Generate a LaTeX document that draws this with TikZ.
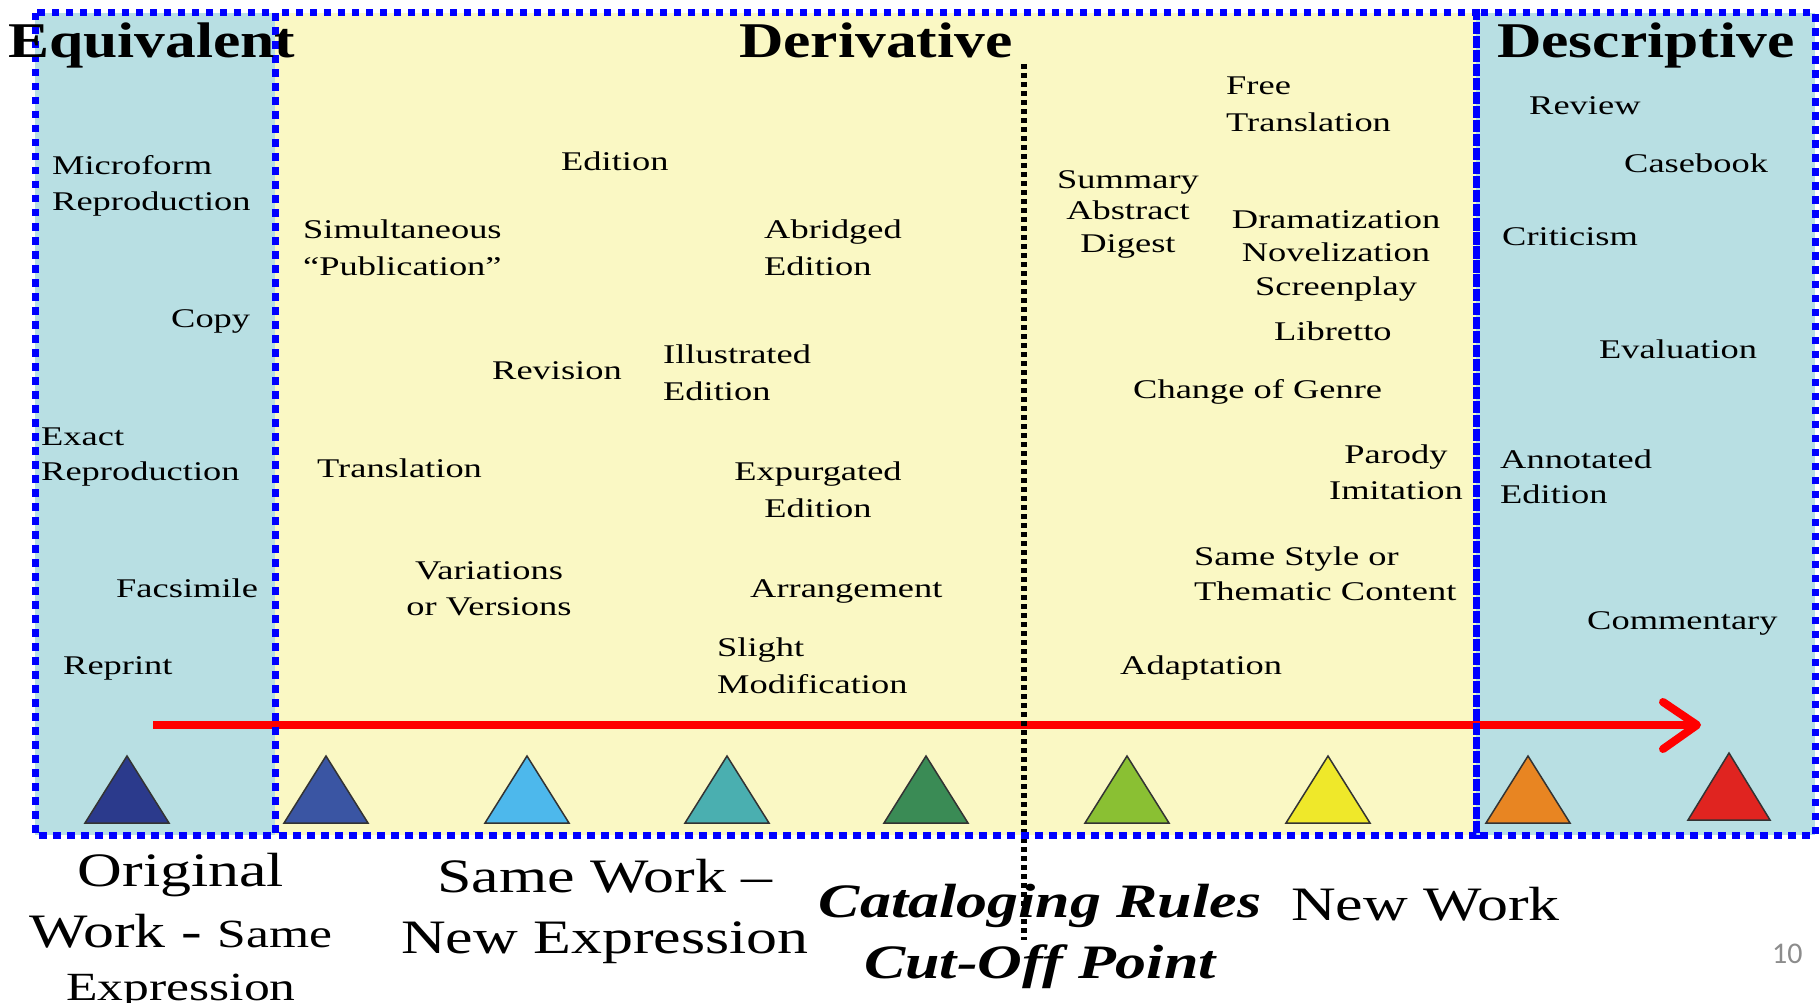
\documentclass[tikz,border=0pt]{standalone}
\usepackage{fontspec}
\setmainfont{Liberation Serif}
\newfontfamily\bodyfont[FakeStretch=1.35]{Liberation Serif}
\newfontfamily\titlefont[FakeStretch=1.23]{Liberation Serif}
\newfontfamily\capfont[FakeStretch=1.29]{Liberation Serif}
\newfontfamily\pagefont{Carlito}
\definecolor{regblue}{HTML}{B8DFE3}
\definecolor{regyellow}{HTML}{FAF8C4}
\definecolor{borderblue}{HTML}{0000FF}
\definecolor{arrowred}{HTML}{FF0000}
\definecolor{triA}{HTML}{2B3A8C}
\definecolor{triB}{HTML}{3A55A3}
\definecolor{triC}{HTML}{4DB8EC}
\definecolor{triD}{HTML}{4AAFB0}
\definecolor{triE}{HTML}{3A8B55}
\definecolor{triF}{HTML}{8AC033}
\definecolor{triG}{HTML}{EFE82A}
\definecolor{triH}{HTML}{E88522}
\definecolor{triI}{HTML}{E02420}
\definecolor{pagegray}{HTML}{8C8C8C}
\begin{document}
\begin{tikzpicture}[x=1pt,y=-1pt,
  blueborder/.style={draw=borderblue, line width=7pt, dash pattern=on 7.5pt off 6.5pt},
  cutline/.style={draw=black, line width=5.5pt, dash pattern=on 5pt off 4pt},
  redline/.style={draw=arrowred, line width=8pt},
  tri/.style={draw=black!80, line width=1.5pt},
  lbl/.style={font=\bodyfont\fontsize{27}{36}\selectfont, inner sep=0pt, anchor=base west, align=left},
  lblc/.style={lbl, anchor=base, align=center},
  ttl/.style={font=\titlefont\bfseries\fontsize{50}{60}\selectfont, inner sep=0pt, anchor=base west},
  caplbl/.style={font=\capfont\fontsize{48}{61}\selectfont, inner sep=0pt, anchor=base, align=center},
  pagenum/.style={font=\pagefont\fontsize{30}{36}\selectfont, text=pagegray, inner sep=0pt, anchor=base west}
]
\useasboundingbox (0,0) rectangle (1820,1003);
\fill[white] (0,0) rectangle (1820,1003);

% regions
\fill[regblue] (35,13) rectangle (275,835);
\fill[regyellow] (275,13) rectangle (1476,835);
\fill[regblue] (1476,13) rectangle (1815,835);

% red arrow
\coordinate (arrS) at (153,725);
\coordinate (arrE) at (1697,725);
\coordinate (barbU) at (1663,702);
\coordinate (barbD) at (1663,749);
\draw[redline] (arrS) -- (arrE);
\draw[redline, line cap=round, line join=round] (barbU) -- (arrE) -- (barbD);

% cut-off line
\coordinate (cutT) at (1024,64);
\coordinate (cutB) at (1024,940);
\draw[cutline] (cutT) -- (cutB);

% borders
\draw[blueborder] (35,13) rectangle (275,835);
\draw[blueborder] (275,13) rectangle (1476,835);
\draw[blueborder] (1476,13) rectangle (1815,835);

% triangles
\foreach \cx/\col in {127/triA,326/triB,527/triC,727/triD,926/triE,1127/triF,1328/triG,1528/triH}{
  \draw[tri, fill=\col] (\cx-42,823) -- (\cx,756) -- (\cx+42,823) -- cycle;
}
\draw[tri, fill=triI] (1729-41,820) -- (1729,753) -- (1729+41,820) -- cycle;

% titles
\node[ttl] (tEq) at (8,58) {Equivalent};
\node[ttl] (tDer) at (739,58) {Derivative};
\node[ttl] (tDes) at (1497,58) {Descriptive};

% equivalent labels (multi-line nodes are placed by their last baseline)
\node[lbl] (micro) at (52,211) {Microform\\Reproduction};
\node[lbl] (copy) at (171,327) {Copy};
\node[lbl, font=\bodyfont\fontsize{27}{35}\selectfont] (exact) at (41,480) {Exact\\Reproduction};
\node[lbl] (facs) at (116,597) {Facsimile};
\node[lbl] (repr) at (63,674) {Reprint};

% derivative labels (same work)
\node[lbl] (edit) at (561,171) {Edition};
\node[lbl, font=\bodyfont\fontsize{27}{37}\selectfont] (simul) at (303,275) {Simultaneous\\“Publication”};
\node[lbl, font=\bodyfont\fontsize{27}{37}\selectfont] (abr) at (764,275) {Abridged\\Edition};
\node[lbl] (rev) at (492,379) {Revision};
\node[lbl, font=\bodyfont\fontsize{27}{37}\selectfont] (illu) at (663,400) {Illustrated\\Edition};
\node[lbl] (trans) at (317,477) {Translation};
\node[lblc, font=\bodyfont\fontsize{27}{37}\selectfont] (expu) at (818,517) {Expurgated\\Edition};
\node[lblc] (vari) at (489,615) {Variations\\or Versions};
\node[lbl] (arr) at (750,597) {Arrangement};
\node[lbl, font=\bodyfont\fontsize{27}{37}\selectfont] (slight) at (717,693) {Slight\\Modification};

% derivative labels (new work)
\node[lbl, font=\bodyfont\fontsize{27}{37}\selectfont] (free) at (1226,132) {Free\\Translation};
\node[lblc, font=\bodyfont\fontsize{27}{32}\selectfont] (summ) at (1128,252) {Summary\\Abstract\\Digest};
\node[lblc, font=\bodyfont\fontsize{27}{33.5}\selectfont] (drama) at (1336,295) {Dramatization\\Novelization\\Screenplay};
\node[lbl] (libr) at (1274,340) {Libretto};
\node[lbl] (genre) at (1133,398) {Change of Genre};
\node[lblc] (parody) at (1396,499) {Parody\\Imitation};
\node[lbl, font=\bodyfont\fontsize{27}{35}\selectfont] (style) at (1194,600) {Same Style or\\Thematic Content};
\node[lbl] (adapt) at (1120,674) {Adaptation};

% descriptive labels
\node[lbl] (review) at (1529,115) {Review};
\node[lbl] (case) at (1624,173) {Casebook};
\node[lbl] (crit) at (1502,245) {Criticism};
\node[lbl] (eval) at (1599,358) {Evaluation};
\node[lbl, font=\bodyfont\fontsize{27}{35}\selectfont] (annot) at (1500,503) {Annotated\\Edition};
\node[lbl] (comm) at (1587,629) {Commentary};

% bottom captions
\node[caplbl] (orig) at (181,1000) {Original\\Work - {\fontsize{40}{61}\selectfont Same}\\[-8pt]{\fontsize{40}{61}\selectfont Expression}};
\node[caplbl] (same) at (605,953) {Same Work –\\New Expression};
\node[caplbl, font=\capfont\bfseries\itshape\fontsize{48}{61}\selectfont] (cut) at (1040,978) {Cataloging Rules\\Cut-Off Point};
\node[caplbl, anchor=base west] (neww) at (1291,920) {New Work};
\node[pagenum] (page) at (1772,963) {10};
\end{tikzpicture}
\end{document}
